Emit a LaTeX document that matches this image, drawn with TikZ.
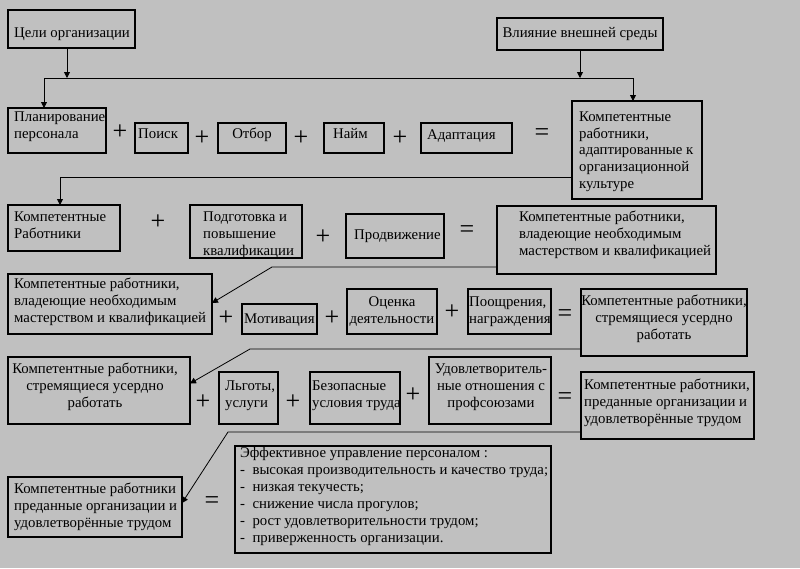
\documentclass[tikz,border=0pt]{standalone}
\usepackage{fontspec}
\setmainfont{Liberation Serif}
\usetikzlibrary{arrows.meta}
\definecolor{bgcol}{HTML}{C0C0C0}
\begin{document}
\begin{tikzpicture}[x=1pt,y=-1pt,
  box/.style={draw=black, line width=1.1pt, inner sep=0pt, outer sep=0pt},
  txt/.style={inner sep=0pt, font=\fontsize{14.8}{16.6}\selectfont, align=left, anchor=base west},
  ctxt/.style={inner sep=0pt, font=\fontsize{14.8}{16.6}\selectfont, align=center, anchor=base},
  op/.style={inner sep=0pt, font=\fontsize{26}{26}\selectfont},
  conn/.style={line width=0.8pt},
  arr/.style={conn, -{Triangle[length=6pt,width=6pt]}}]
\fill[bgcol] (0,0) rectangle (800,568);
\useasboundingbox (0,0) rectangle (800,568);

% ---- boxes: (x1,y1) to (x2,y2)
\newcommand{\bx}[5]{\node[box, minimum width={#4-#2}, minimum height={#5-#3}] (#1) at ({(#2+#4)/2},{(#3+#5)/2}) {};}
\bx{goals}{8}{10}{135}{48}
\bx{env}{497}{18}{663}{50}
\bx{plan}{8}{108}{106}{153}
\bx{search}{135}{123}{188}{153}
\bx{select}{218}{123}{286}{153}
\bx{hire}{324}{123}{384}{153}
\bx{adapt}{421}{123}{512}{153}
\bx{compA}{572}{101}{702}{199}
\bx{compB}{8}{205}{120}{251}
\bx{train}{190}{205}{302}{258}
\bx{promo}{346}{214}{444}{258}
\bx{compC}{497}{206}{716}{274}
\bx{compD}{8}{274}{212}{334}
\bx{motiv}{242}{304}{317}{334}
\bx{evalb}{347}{289}{437}{334}
\bx{reward}{468}{289}{551}{334}
\bx{compE}{581}{289}{747}{356}
\bx{compF}{8}{357}{190}{424}
\bx{benef}{219}{372}{278}{424}
\bx{safe}{310}{372}{400}{424}
\bx{union}{429}{357}{551}{424}
\bx{compG}{581}{372}{754}{439}
\bx{compH}{8}{477}{182}{537}
\bx{eff}{235}{446}{551}{553}

% ---- texts (anchor = baseline of the last line)
\node[txt] (goalsT) at (14,37) {Цели организации};
\node[ctxt] (envT) at (580,37) {Влияние внешней среды};
\node[txt] (planT) at (14,138) {Планирование\\персонала};
\node[txt] (searchT) at (138,138) {Поиск};
\node[ctxt] (selectT) at (252,138) {Отбор};
\node[txt] (hireT) at (333,138) {Найм};
\node[txt] (adaptT) at (427,139) {Адаптация};
\node[txt] (compAT) at (579,188) {Компетентные\\работники,\\адаптированные к\\организационной\\культуре};
\node[txt] (compBT) at (14,238) {Компетентные\\Работники};
\node[txt] (trainT) at (203,255) {Подготовка и\\повышение\\квалификации};
\node[txt] (promoT) at (354,239) {Продвижение};
\node[txt] (compCT) at (519,255) {Компетентные работники,\\владеющие необходимым\\мастерством и квалификацией};
\node[txt] (compDT) at (14,322) {Компетентные работники,\\владеющие необходимым\\мастерством и квалификацией};
\node[txt] (motivT) at (244,323) {Мотивация};
\node[ctxt] (evalT) at (392,323) {Оценка\\деятельности};
\node[txt] (rewardT) at (469,323) {Поощрения,\\награждения};
\node[ctxt] (compET) at (664,339) {Компетентные работники,\\стремящиеся усердно\\работать};
\node[ctxt] (compFT) at (95,407) {Компетентные работники,\\стремящиеся усердно\\работать};
\node[txt] (benefT) at (225,407) {Льготы,\\услуги};
\node[txt] (safeT) at (312,407) {Безопасные\\условия труда};
\node[ctxt] (unionT) at (491,407) {Удовлетворитель-\\ные отношения с\\профсоюзами};
\node[txt] (compGT) at (584,423) {Компетентные работники,\\преданные организации и\\удовлетворённые трудом};
\node[txt] (compHT) at (14,527) {Компетентные работники\\преданные организации и\\удовлетворённые трудом};
\node[txt, font=\fontsize{14.8}{17}\selectfont] (effT) at (240,542) {Эффективное управление персоналом :\\
-\ \ высокая производительность и качество труда;\\
-\ \ низкая текучесть;\\
-\ \ снижение числа прогулов;\\
-\ \ рост удовлетворительности трудом;\\
-\ \ приверженность организации.};

% ---- operators
\node[op] (p1) at (120,132) {+};
\node[op] (p2) at (202,138) {+};
\node[op] (p3) at (301,138) {+};
\node[op] (p4) at (400,138) {+};
\node[op] (e1) at (542,135) {=};
\node[op] (p5) at (158,222) {+};
\node[op] (p6) at (323,237) {+};
\node[op] (e2) at (467,232) {=};
\node[op] (p7) at (226,318) {+};
\node[op] (p8) at (332,318) {+};
\node[op] (p9) at (452,312) {+};
\node[op] (e3) at (565,316) {=};
\node[op] (p10) at (203,402) {+};
\node[op] (p11) at (293,402) {+};
\node[op] (p12) at (413,395) {+};
\node[op] (e4) at (565,399) {=};
\node[op] (e5) at (212,503) {=};

% ---- connectors
\coordinate (j1) at (67,78);
\coordinate (j2) at (580,78);
\coordinate (busL) at (44,78);
\coordinate (busR) at (633,78);
\draw[conn] (busL) -- (busR);
\draw[arr] (goals.south -| j1) -- (j1);
\draw[arr] (env.south -| j2) -- (j2);
\draw[arr] (busL) -- (busL |- plan.north);
\draw[arr] (busR) -- (busR |- compA.north);

\coordinate (c1) at (60,177);
\draw[arr] (compA.west |- c1) -- (c1) -- (c1 |- compB.north);
\coordinate (c2) at (272,267);
\draw[arr] (compC.west |- c2) -- (c2) -- ([yshift=1pt]compD.east);
\coordinate (c3) at (250,349);
\draw[arr] (compE.west |- c3) -- (c3) -- ([yshift=7pt]compF.east);
\coordinate (c4) at (228,432);
\draw[arr] (compG.west |- c4) -- (c4) -- ([yshift=4pt]compH.east);
\end{tikzpicture}
\end{document}
